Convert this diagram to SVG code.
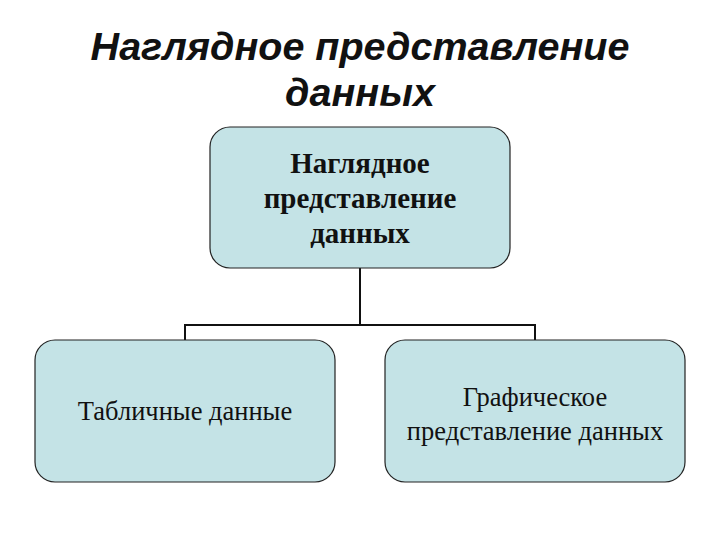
<svg xmlns="http://www.w3.org/2000/svg" width="720" height="540" viewBox="0 0 720 540">
<style>
.box{fill:#c4e3e6;stroke:#222;stroke-width:1.2}
.t{font-family:"Liberation Serif",serif;font-size:26.5px;fill:#111;text-anchor:middle}
.b{font-weight:bold;font-size:29px}
.h{font-family:"Liberation Sans",sans-serif;font-size:39.5px;font-weight:bold;font-style:italic;fill:#111;text-anchor:middle}
.c{fill:none;stroke:#111;stroke-width:2}
</style>
<rect width="720" height="540" fill="#fff"/>
<text class="h" x="360" y="60">Наглядное представление</text>
<text class="h" x="360" y="106">данных</text>
<g id="connectors">
<path class="c" d="M360 268V325M185 340V325H535V340"/>
</g>
<g id="top">
<rect class="box" x="210" y="127" width="300" height="141" rx="20"/>
<text class="t b" x="360" y="173">Наглядное</text>
<text class="t b" x="360" y="208">представление</text>
<text class="t b" x="360" y="243">данных</text>
</g>
<g id="left">
<rect class="box" x="35" y="340" width="300" height="142" rx="20"/>
<text class="t" x="185" y="420">Табличные данные</text>
</g>
<g id="right">
<rect class="box" x="385" y="340" width="300" height="142" rx="20"/>
<text class="t" x="535" y="406">Графическое</text>
<text class="t" x="535" y="440">представление данных</text>
</g>
</svg>
